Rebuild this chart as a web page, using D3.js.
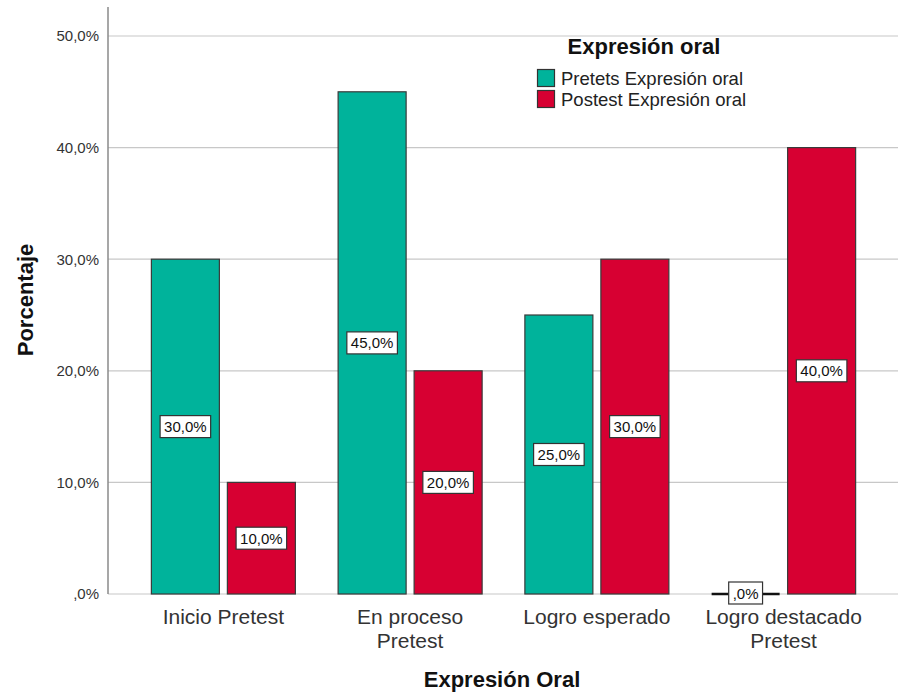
<!DOCTYPE html>
<html><head><meta charset="utf-8">
<script src="https://cdn.jsdelivr.net/npm/d3@7/dist/d3.min.js"></script>
<style>body{margin:0;background:#fff}svg{display:block;font-family:"Liberation Sans",Arial,sans-serif}</style>
</head><body>
<svg id="c" width="898" height="698"></svg>
<script>
const categories = [["Inicio Pretest"], ["En proceso", "Pretest"], ["Logro esperado"], ["Logro destacado", "Pretest"]];
const seriesNames = ["Pretets Expresión oral", "Postest Expresión oral"];
const pretest = [30, 45, 25, 0];
const postest = [10, 20, 30, 40];
const yTicks = [0, 10, 20, 30, 40, 50];
const colors = ["#00B39B", "#D70032"];

const svg = d3.select("#c");
const pLeft = 108, pRight = 898, pTop = 7, pBottom = 594;
const x = d3.scaleBand().domain(d3.range(categories.length)).range([130, 877]);
const y = d3.scaleLinear().domain([0, 50]).range([pBottom, 36]);
const fmt = v => (v === 0 ? ",0%" : v.toFixed(1).replace(".", ",") + "%");

// gridlines
svg.append("g").selectAll("line").data(yTicks).join("line")
  .attr("x1", pLeft).attr("x2", pRight).attr("y1", d => y(d)).attr("y2", d => y(d))
  .attr("stroke", "#c8c8c8").attr("stroke-width", 1.2);

// y axis
const yAxis = d3.axisLeft(y).tickValues(yTicks).tickFormat(fmt).tickSize(0).tickPadding(9);
const ga = svg.append("g").attr("transform", `translate(${pLeft},0)`).call(yAxis);
ga.select(".domain").remove();
ga.selectAll("text").attr("font-size", 15).attr("fill", "#333").attr("font-family", "Liberation Sans, Arial");
svg.append("line").attr("x1", pLeft).attr("x2", pLeft).attr("y1", pTop).attr("y2", pBottom)
  .attr("stroke", "#8a8a8a").attr("stroke-width", 1.5);

// bars
const bw = 68, gap = 8;
const series = [pretest, postest];
series.forEach((vals, s) => {
  const g = svg.append("g");
  vals.forEach((v, i) => {
    const cx = x(i) + x.bandwidth() / 2;
    const bx = s === 0 ? cx - gap / 2 - bw : cx + gap / 2;
    if (v === 0) {
      g.append("line").attr("x1", bx).attr("x2", bx + bw).attr("y1", y(0)).attr("y2", y(0))
        .attr("stroke", "#111").attr("stroke-width", 2.5);
    } else {
      g.append("rect").attr("x", bx).attr("y", y(v)).attr("width", bw).attr("height", y(0) - y(v))
        .attr("fill", colors[s]).attr("stroke", "#3a3a3a").attr("stroke-width", 1.2);
    }
  });
});

// labels
series.forEach((vals, s) => {
  vals.forEach((v, i) => {
    const cx = x(i) + x.bandwidth() / 2;
    const bcx = s === 0 ? cx - gap / 2 - bw / 2 : cx + gap / 2 + bw / 2;
    const cy = (y(0) + y(v)) / 2 - (v === 0 ? 1 : 0);
    const t = fmt(v);
    const g = svg.append("g");
    const txt = g.append("text").attr("x", bcx).attr("y", cy + 5.5).attr("text-anchor", "middle")
      .attr("font-size", 15).attr("fill", "#111").text(t);
    const w = txt.node().getComputedTextLength() + 8;
    g.insert("rect", "text").attr("x", bcx - w / 2).attr("y", cy - 11).attr("width", w).attr("height", 22)
      .attr("fill", "#fff").attr("stroke", "#333").attr("stroke-width", 1.2);
  });
});

// x labels (one text element per category, lines as tspans)
categories.forEach((lines, i) => {
  const cx = x(i) + x.bandwidth() / 2;
  const t = svg.append("text").attr("x", cx).attr("y", 624).attr("text-anchor", "middle")
    .attr("font-size", 21).attr("fill", "#333");
  lines.forEach((l, j) => {
    t.append("tspan").attr("x", cx).attr("dy", j === 0 ? 0 : 23.5).text(l);
  });
});

// axis titles
svg.append("text").attr("x", 502).attr("y", 687).attr("text-anchor", "middle")
  .attr("font-size", 22).attr("font-weight", "bold").attr("fill", "#111").text("Expresión Oral");
svg.append("text").attr("transform", "translate(33,300) rotate(-90)").attr("text-anchor", "middle")
  .attr("font-size", 22).attr("font-weight", "bold").attr("fill", "#111").text("Porcentaje");

// legend
svg.append("text").attr("x", 644).attr("y", 54).attr("text-anchor", "middle")
  .attr("font-size", 22).attr("font-weight", "bold").attr("fill", "#111").text("Expresión oral");
seriesNames.forEach((n, i) => {
  svg.append("rect").attr("x", 537.5).attr("y", 69.5 + i * 21).attr("width", 17).attr("height", 17)
    .attr("fill", colors[i]).attr("stroke", "#333").attr("stroke-width", 1.2);
  svg.append("text").attr("x", 561).attr("y", 85 + i * 21).attr("font-size", 18.5).attr("fill", "#222").text(n);
});
</script>
</body></html>
